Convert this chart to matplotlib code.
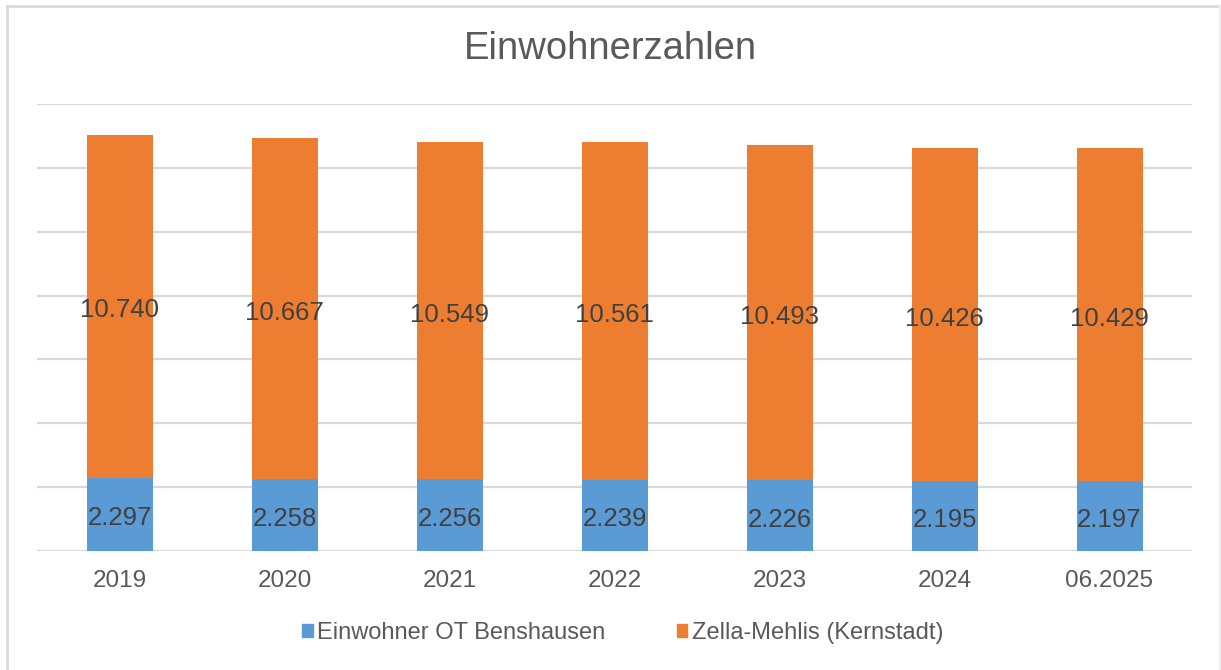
#!/usr/bin/env python3.12
"""Stacked bar chart of population numbers (Einwohnerzahlen)."""

import matplotlib.pyplot as plt
from matplotlib.lines import Line2D
from matplotlib.patches import Patch

YEARS = ["2019", "2020", "2021", "2022", "2023", "2024", "06.2025"]
BENSHAUSEN = [2297, 2258, 2256, 2239, 2226, 2195, 2197]
KERNSTADT = [10740, 10667, 10549, 10561, 10493, 10426, 10429]
SERIES_NAMES = ["Einwohner OT Benshausen", "Zella-Mehlis (Kernstadt)"]

BLUE = "#5B9BD5"
ORANGE = "#ED7D31"
GRID = "#D9D9D9"
TEXT = "#595959"
LABEL = "#404040"


def fmt(v: int) -> str:
    return f"{v:,}".replace(",", ".")


def main() -> None:
    plt.rcParams["font.family"] = ["Liberation Sans", "DejaVu Sans"]

    fig = plt.figure(figsize=(12.21, 6.70), dpi=100)
    ax = fig.add_axes([37 / 1221, 1 - 551 / 670, 1155 / 1221, 447 / 670])

    x = list(range(len(YEARS)))
    b1 = ax.bar(x, BENSHAUSEN, width=0.4, color=BLUE, zorder=3)
    b2 = ax.bar(x, KERNSTADT, width=0.4, bottom=BENSHAUSEN, color=ORANGE, zorder=3)

    for bars, vals in ((b1, BENSHAUSEN), (b2, KERNSTADT)):
        texts = ax.bar_label(bars, labels=[fmt(v) for v in vals], label_type="center",
                             color=LABEL, fontsize=18.5, zorder=4)
        # Excel puts the centred labels a touch lower
        for t in texts:
            t.xyann = (0, -3)

    ax.set_xlim(-0.5, len(YEARS) - 0.5)
    ax.set_ylim(0, 14000)
    ax.set_yticks(range(0, 14001, 2000))
    ax.set_yticklabels([])
    ax.set_xticks(x)
    ax.set_xticklabels(YEARS, color=TEXT, fontsize=17.5)
    ax.tick_params(axis="both", length=0)
    ax.tick_params(axis="x", pad=14)
    ax.grid(axis="y", color=GRID, lw=1.6, zorder=0)
    for spine in ax.spines.values():
        spine.set_visible(False)

    fig.text(0.5, 1 - 49 / 670, "Einwohnerzahlen", ha="center", va="center",
             fontsize=27.5, color=TEXT)

    handles = [Patch(color=BLUE), Patch(color=ORANGE)]
    fig.legend(handles, SERIES_NAMES, loc="center", bbox_to_anchor=(0.51, 1 - 633 / 670),
               ncol=2, frameon=False, fontsize=17, labelcolor=TEXT,
               handlelength=0.45, handleheight=0.45, handletextpad=0.2,
               columnspacing=3.0)

    # thin frame around the chart area
    fig.add_artist(Line2D([7 / 1221, 7 / 1221], [0, 1 - 6 / 670],
                          color="#DADADA", lw=2, transform=fig.transFigure))
    fig.add_artist(Line2D([7 / 1221, 1220 / 1221], [1 - 6 / 670, 1 - 6 / 670],
                          color="#DADADA", lw=2, transform=fig.transFigure))
    fig.add_artist(Line2D([1220 / 1221, 1220 / 1221], [0, 1 - 6 / 670],
                          color="#EEEEEE", lw=1.5, transform=fig.transFigure))

    fig.savefig("out.png", dpi=100, facecolor="white")


if __name__ == "__main__":
    main()
